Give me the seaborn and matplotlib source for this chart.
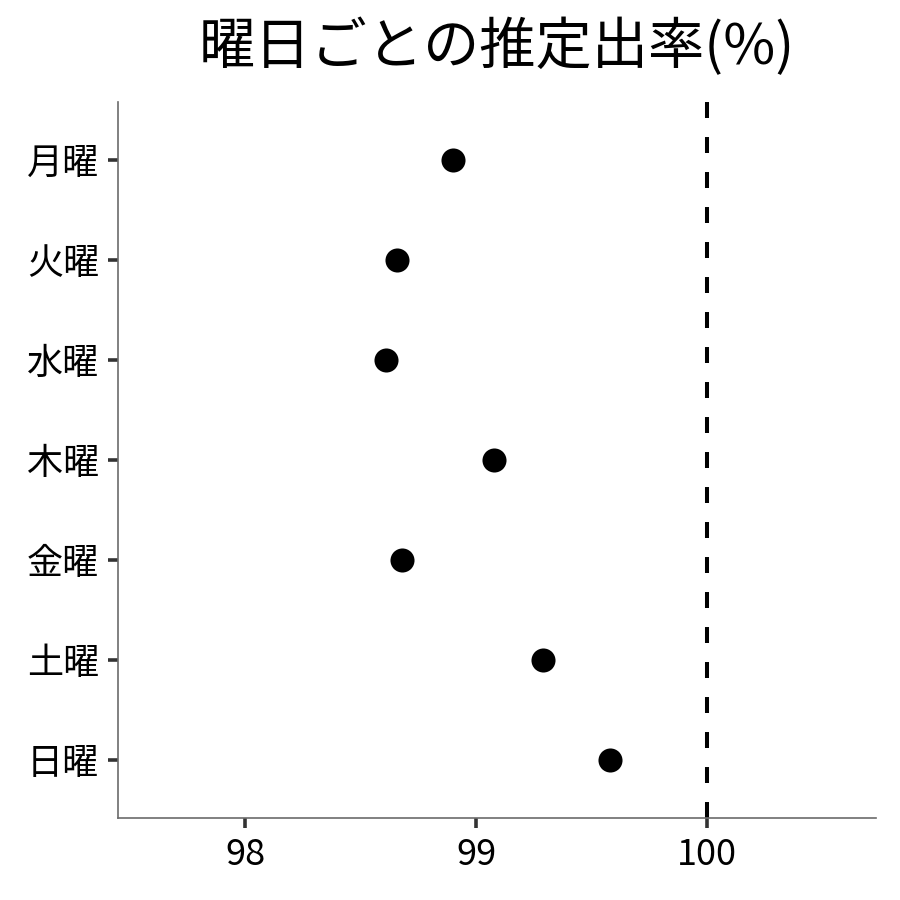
import matplotlib
matplotlib.use("Agg")
import matplotlib.pyplot as plt
import seaborn as sns
import pandas as pd

days = ["月曜", "火曜", "水曜", "木曜", "金曜", "土曜", "日曜"]
rates = [98.90, 98.66, 98.61, 99.08, 98.68, 99.29, 99.58]
xticks = [98, 99, 100]
ref_value = 100
title = "曜日ごとの推定出率(%)"

sns.set_theme(style="ticks")
plt.rcParams['font.family'] = ['Noto Sans CJK JP', 'DejaVu Sans']

df = pd.DataFrame({"day": days, "rate": rates})

fig = plt.figure(figsize=(9, 9), dpi=100)
ax = fig.add_axes([0.131, 0.091, 0.842, 0.796])

sns.scatterplot(data=df, x="rate", y="day", ax=ax, color="black", s=300,
                edgecolor="black", linewidth=0, zorder=3)
lw = 2.9
ax.axvline(ref_value, color="black", lw=lw, linestyle=(0, (11.5 / lw, 13.7 / lw)), zorder=2)

ax.set_xlim(97.45, 100.73)
ax.set_ylim(6.58, -0.58)
ax.set_xticks(xticks)
ax.set_xticklabels([str(v) for v in xticks])
ax.set_xlabel("")
ax.set_ylabel("")

for side in ["top", "right"]:
    ax.spines[side].set_visible(False)
for side in ["left", "bottom"]:
    ax.spines[side].set_color("#6b6b6b")
    ax.spines[side].set_linewidth(1.2)

ax.tick_params(axis="both", length=7.5, width=2.6, color="#333333", labelsize=26,
               labelcolor="black", pad=6)

ax.set_title(title, fontsize=40.5, pad=27, color="black")

fig.savefig("out.png", dpi=100, facecolor="white")
